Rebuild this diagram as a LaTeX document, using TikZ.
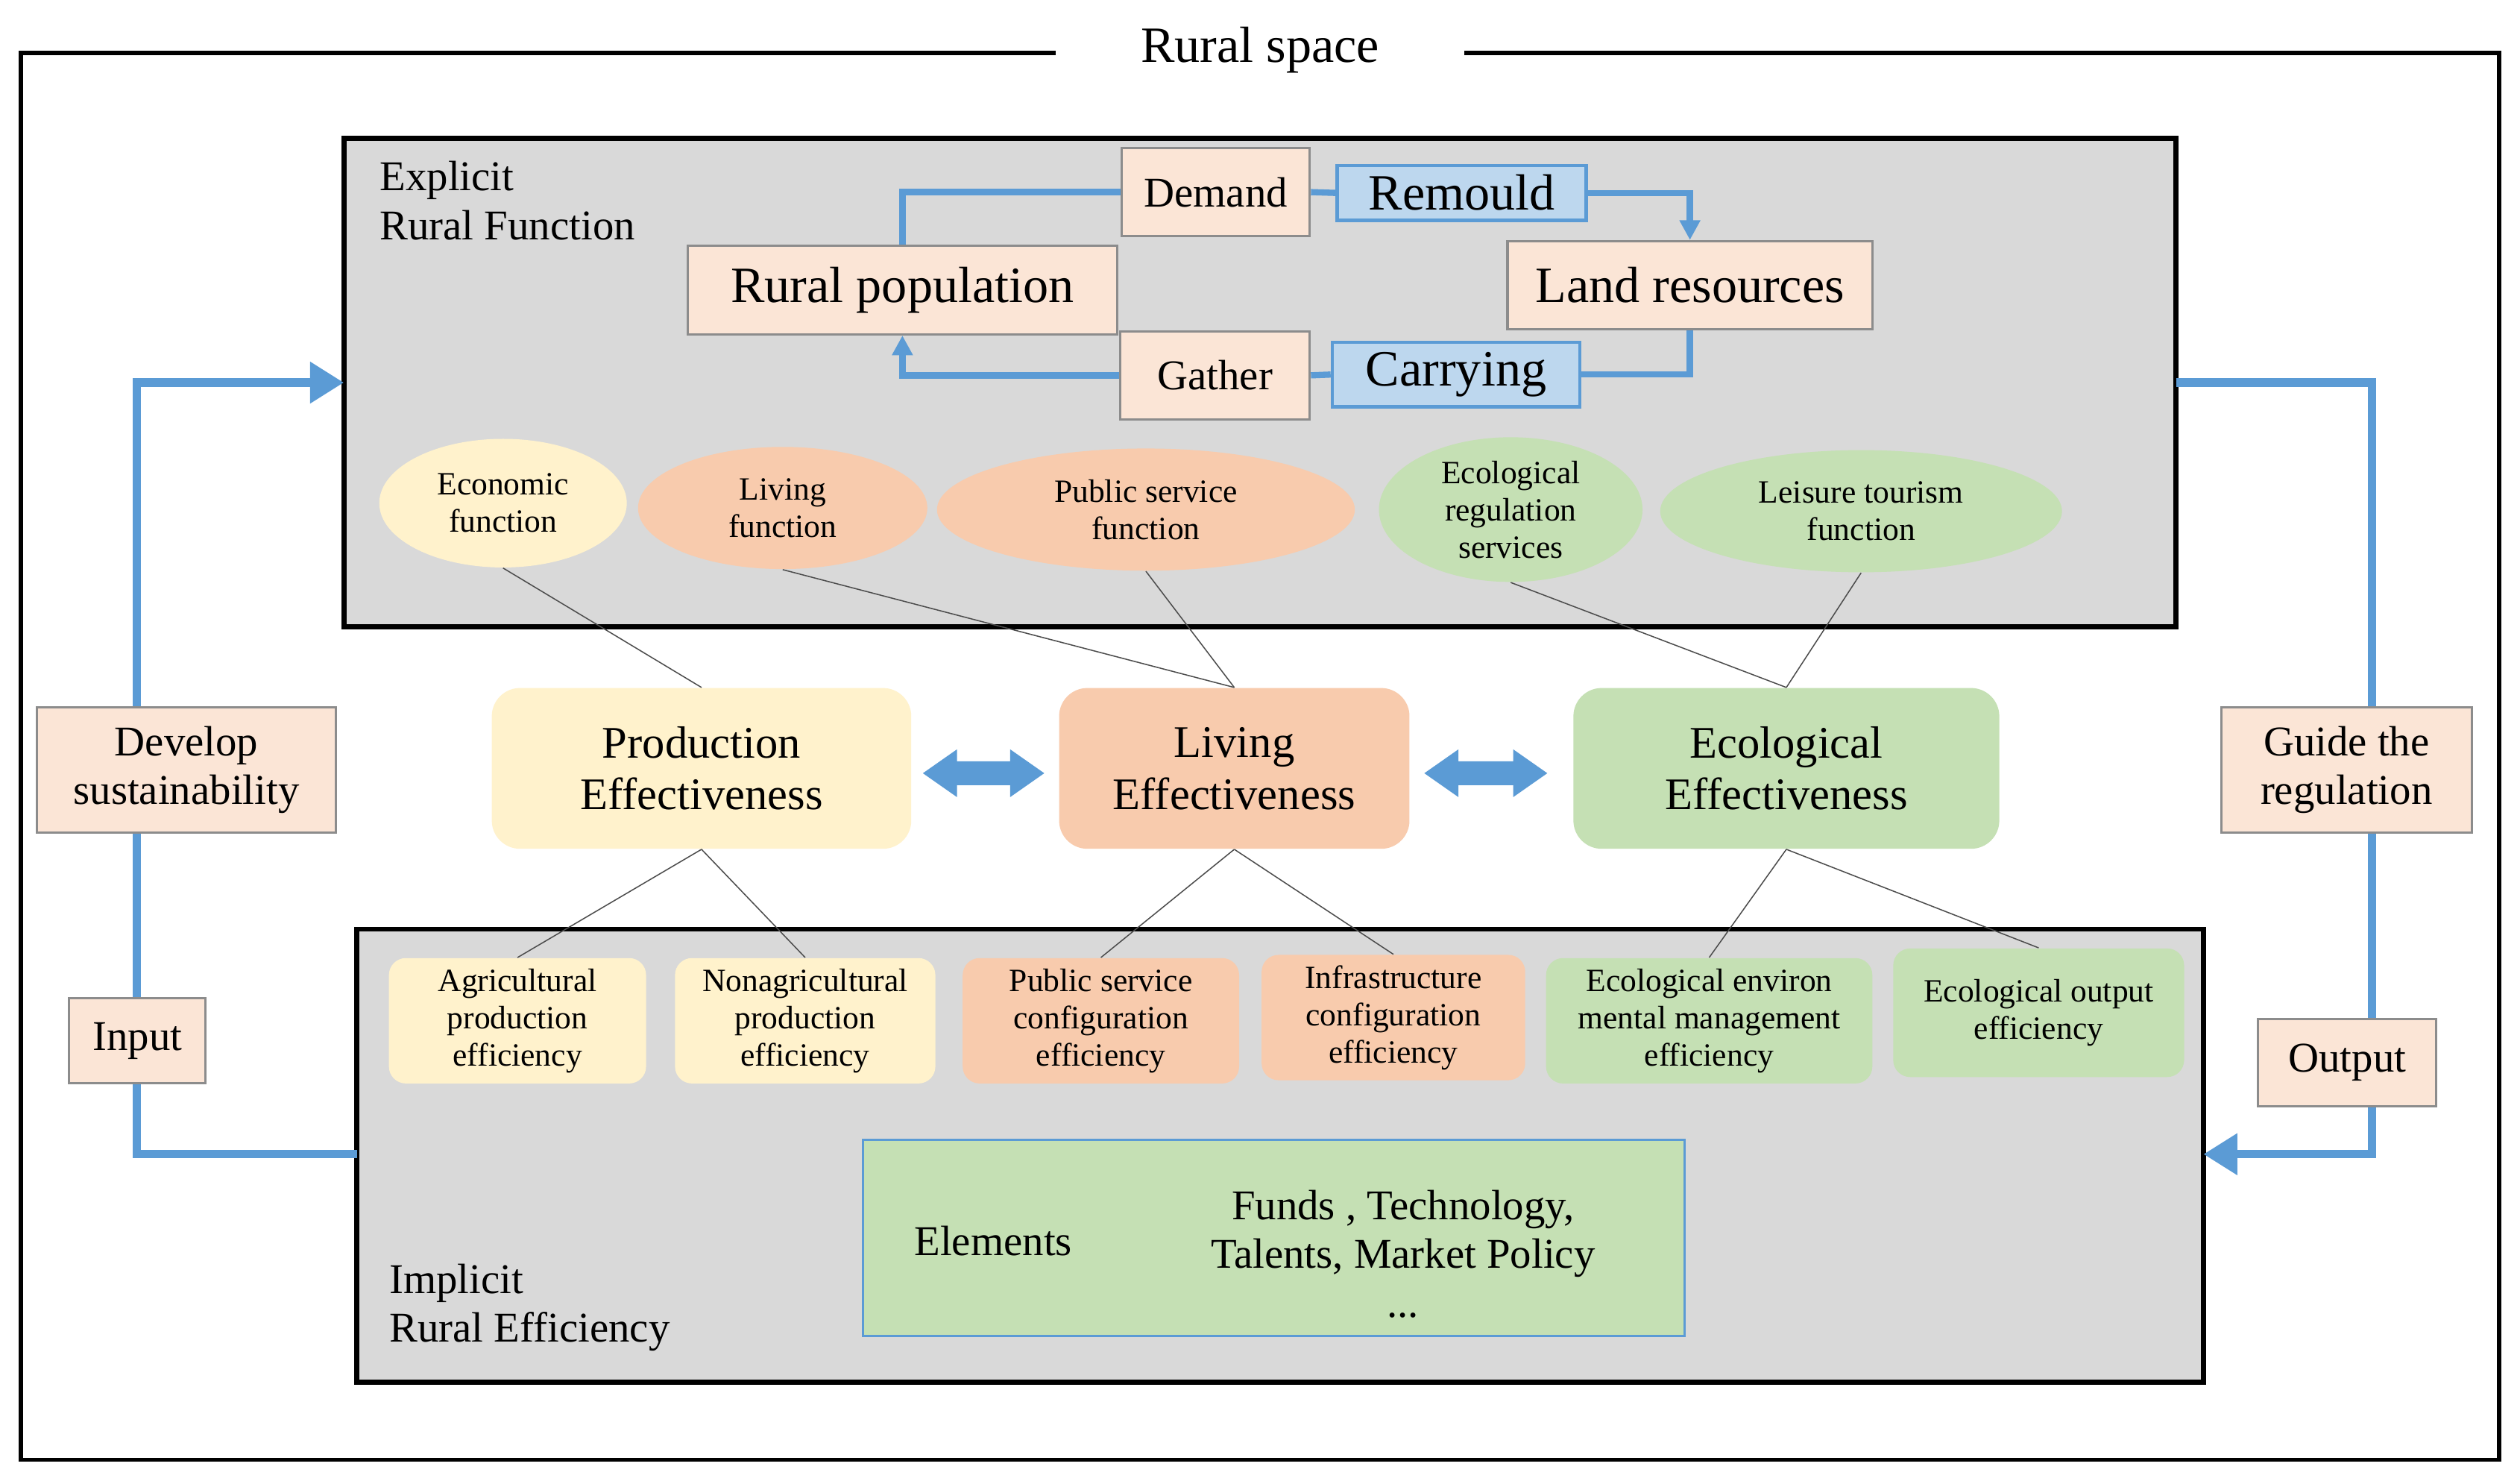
\documentclass[tikz,border=0pt]{standalone}
\usepackage{fontspec}
\setmainfont{Liberation Serif}
\usetikzlibrary{arrows.meta}
\definecolor{bl}{HTML}{5B9BD5}
\definecolor{pe}{HTML}{FBE5D6}
\definecolor{lb}{HTML}{BDD7EE}
\definecolor{ye}{HTML}{FFF2CC}
\definecolor{or}{HTML}{F8CBAD}
\definecolor{gr}{HTML}{C5E0B4}
\definecolor{gy}{HTML}{D9D9D9}
\newcommand{\fs}[1]{\fontsize{#1}{#1}\selectfont\baselineskip=1.15em\relax}
\tikzset{
 fbox/.style={draw=black!45,fill=pe,line width=0.8pt,inner sep=0pt},
 bbox/.style={draw=bl,fill=lb,line width=1.2pt,inner sep=0pt},
 ell/.style={ellipse,draw=none,align=center,font=\fs{11.5}},
 eff/.style={rounded corners=10pt,draw=none,align=center,font=\fs{16}},
 sm/.style={rounded corners=6pt,draw=none,align=center,font=\fs{11.5}},
 fl/.style={draw=bl,line width=2.2pt},
 thin/.style={draw=black!70,line width=0.4pt},
 big/.style={line width=3pt,draw=bl},
 darr/.style={draw=bl,fill=bl,line width=0.5pt}
}
\usetikzlibrary{shapes.geometric}
\begin{document}
\begin{tikzpicture}[x=0.02cm,y=-0.02cm]
\useasboundingbox (0,0) rectangle (1568,923);
\draw[line width=1.4pt,fill=white] (13,33) rectangle (1555,908);
\node[fill=white,inner xsep=30pt,inner ysep=2pt,font=\fs{18}] (title) at (784,31) {Rural space};
% gray boxes
\draw[line width=1.8pt,fill=gy] (214,86) rectangle (1354,390);
\draw[line width=1.8pt,fill=gy] (222,578) rectangle (1371,860);
\node[anchor=north west,align=left,font=\fs{15},inner sep=0pt] (expl) at (236,100) {Explicit\\Rural Function};
\node[anchor=north west,align=left,font=\fs{15},inner sep=0pt] (impl) at (242,786) {Implicit\\Rural Efficiency};
% top cycle
\node[fbox,minimum width=117*0.02cm,minimum height=55*0.02cm,font=\fs{15}] (dem) at (756.5,119.5) {Demand};
\node[bbox,minimum width=155*0.02cm,minimum height=34*0.02cm,font=\fs{18}] (rem) at (909.5,120) {Remould};
\node[fbox,minimum width=267*0.02cm,minimum height=55*0.02cm,font=\fs{18}] (rp) at (561.5,180.5) {Rural population};
\node[fbox,minimum width=227*0.02cm,minimum height=55*0.02cm,font=\fs{18}] (lr) at (1051.5,177.5) {Land resources};
\node[fbox,minimum width=118*0.02cm,minimum height=55*0.02cm,font=\fs{15}] (gat) at (756,233.5) {Gather};
\node[bbox,minimum width=154*0.02cm,minimum height=40*0.02cm,font=\fs{18}] (car) at (906,233) {Carrying};
\draw[fl] (rp.north) |- (dem.west);
\draw[fl] (dem.east) -- (rem.west);
\draw[fl,-{Triangle[length=7pt,width=7pt]}] (rem.east) -| (lr.north);
\draw[fl] (lr.south) |- (car.east);
\draw[fl] (car.west) -- (gat.east);
\draw[fl,-{Triangle[length=7pt,width=7pt]}] (gat.west) -| (rp.south);
% ellipses
\node[ell,fill=ye,minimum width=154*0.02cm,minimum height=80*0.02cm] (e1) at (313,313) {Economic\\function};
\node[ell,fill=or,minimum width=180*0.02cm,minimum height=76*0.02cm] (e2) at (487,316) {Living\\function};
\node[ell,fill=or,minimum width=260*0.02cm,minimum height=76*0.02cm] (e3) at (713,317) {Public service\\function};
\node[ell,fill=gr,minimum width=164*0.02cm,minimum height=90*0.02cm,inner sep=0pt] (e4) at (940,317) {Ecological\\regulation\\services};
\node[ell,fill=gr,minimum width=250*0.02cm,minimum height=76*0.02cm] (e5) at (1158,318) {Leisure tourism\\function};
% effectiveness
\node[eff,fill=ye,minimum width=261*0.02cm,minimum height=100*0.02cm] (pe) at (436.5,478) {Production\\Effectiveness};
\node[eff,fill=or,minimum width=218*0.02cm,minimum height=100*0.02cm] (le) at (768,478) {Living\\Effectiveness};
\node[eff,fill=gr,minimum width=265*0.02cm,minimum height=100*0.02cm] (ee) at (1111.5,478) {Ecological\\Effectiveness};
\draw[darr] (575,481) -- (595,467) -- (595,474) -- (629,474) -- (629,467) -- (649,481) -- (629,495) -- (629,488) -- (595,488) -- (595,495) -- cycle;
\draw[darr] (887,481) -- (907,467) -- (907,474) -- (942,474) -- (942,467) -- (962,481) -- (942,495) -- (942,488) -- (907,488) -- (907,495) -- cycle;
\draw[thin] (e1.south) -- (pe.north);
\draw[thin] (e2.south) -- (le.north);
\draw[thin] (e3.south) -- (le.north);
\draw[thin] (e4.south) -- (ee.north);
\draw[thin] (e5.south) -- (ee.north);
% small boxes
\node[sm,fill=ye,minimum width=160*0.02cm,minimum height=78*0.02cm] (s1) at (322,635) {Agricultural\\production\\efficiency};
\node[sm,fill=ye,minimum width=162*0.02cm,minimum height=78*0.02cm] (s2) at (501,635) {Nonagricultural\\production\\efficiency};
\node[sm,fill=or,minimum width=172*0.02cm,minimum height=78*0.02cm] (s3) at (685,635) {Public service\\configuration\\efficiency};
\node[sm,fill=or,minimum width=164*0.02cm,minimum height=78*0.02cm] (s4) at (867,633) {Infrastructure\\configuration\\efficiency};
\node[sm,fill=gr,minimum width=203*0.02cm,minimum height=78*0.02cm] (s5) at (1063.5,635) {Ecological environ\\mental management\\efficiency};
\node[sm,fill=gr,minimum width=181*0.02cm,minimum height=80*0.02cm] (s6) at (1268.5,630) {Ecological output\\efficiency};
\draw[thin] (pe.south) -- (s1.north);
\draw[thin] (pe.south) -- (s2.north);
\draw[thin] (le.south) -- (s3.north);
\draw[thin] (le.south) -- (s4.north);
\draw[thin] (ee.south) -- (s5.north);
\draw[thin] (ee.south) -- (s6.north);
% elements
\node[draw=bl,fill=gr,line width=0.8pt,minimum width=511*0.02cm,minimum height=122*0.02cm] (elb) at (792.5,770) {};
\node[font=\fs{15},inner sep=0pt] (elt) at (618,772) {Elements};
\node[font=\fs{15},align=center,inner sep=0pt] (elf) at (873,780) {Funds , Technology,\\Talents, Market Policy\\...};
% side loops
\coordinate (lt) at (214,238);
\coordinate (lb) at (222,718);
\coordinate (rt) at (1354,238);
\coordinate (rb) at (1371,718);
\draw[big,-{Triangle[length=12pt,width=14pt]}] (lb) -- (85,718) -- (85,238) -- (lt);
\draw[big,-{Triangle[length=12pt,width=14pt]}] (rt) -- (1476,238) -- (1476,718) -- (rb);
\node[fbox,minimum width=186*0.02cm,minimum height=78*0.02cm,align=center,font=\fs{15}] (dev) at (116,479) {Develop\\sustainability};
\node[fbox,minimum width=85*0.02cm,minimum height=53*0.02cm,font=\fs{15}] (inp) at (85.5,647.5) {Input};
\node[fbox,minimum width=156*0.02cm,minimum height=78*0.02cm,align=center,font=\fs{15}] (gui) at (1460,479) {Guide the\\regulation};
\node[fbox,minimum width=111*0.02cm,minimum height=54*0.02cm,font=\fs{15}] (out) at (1460.5,661) {Output};
\end{tikzpicture}
\end{document}
